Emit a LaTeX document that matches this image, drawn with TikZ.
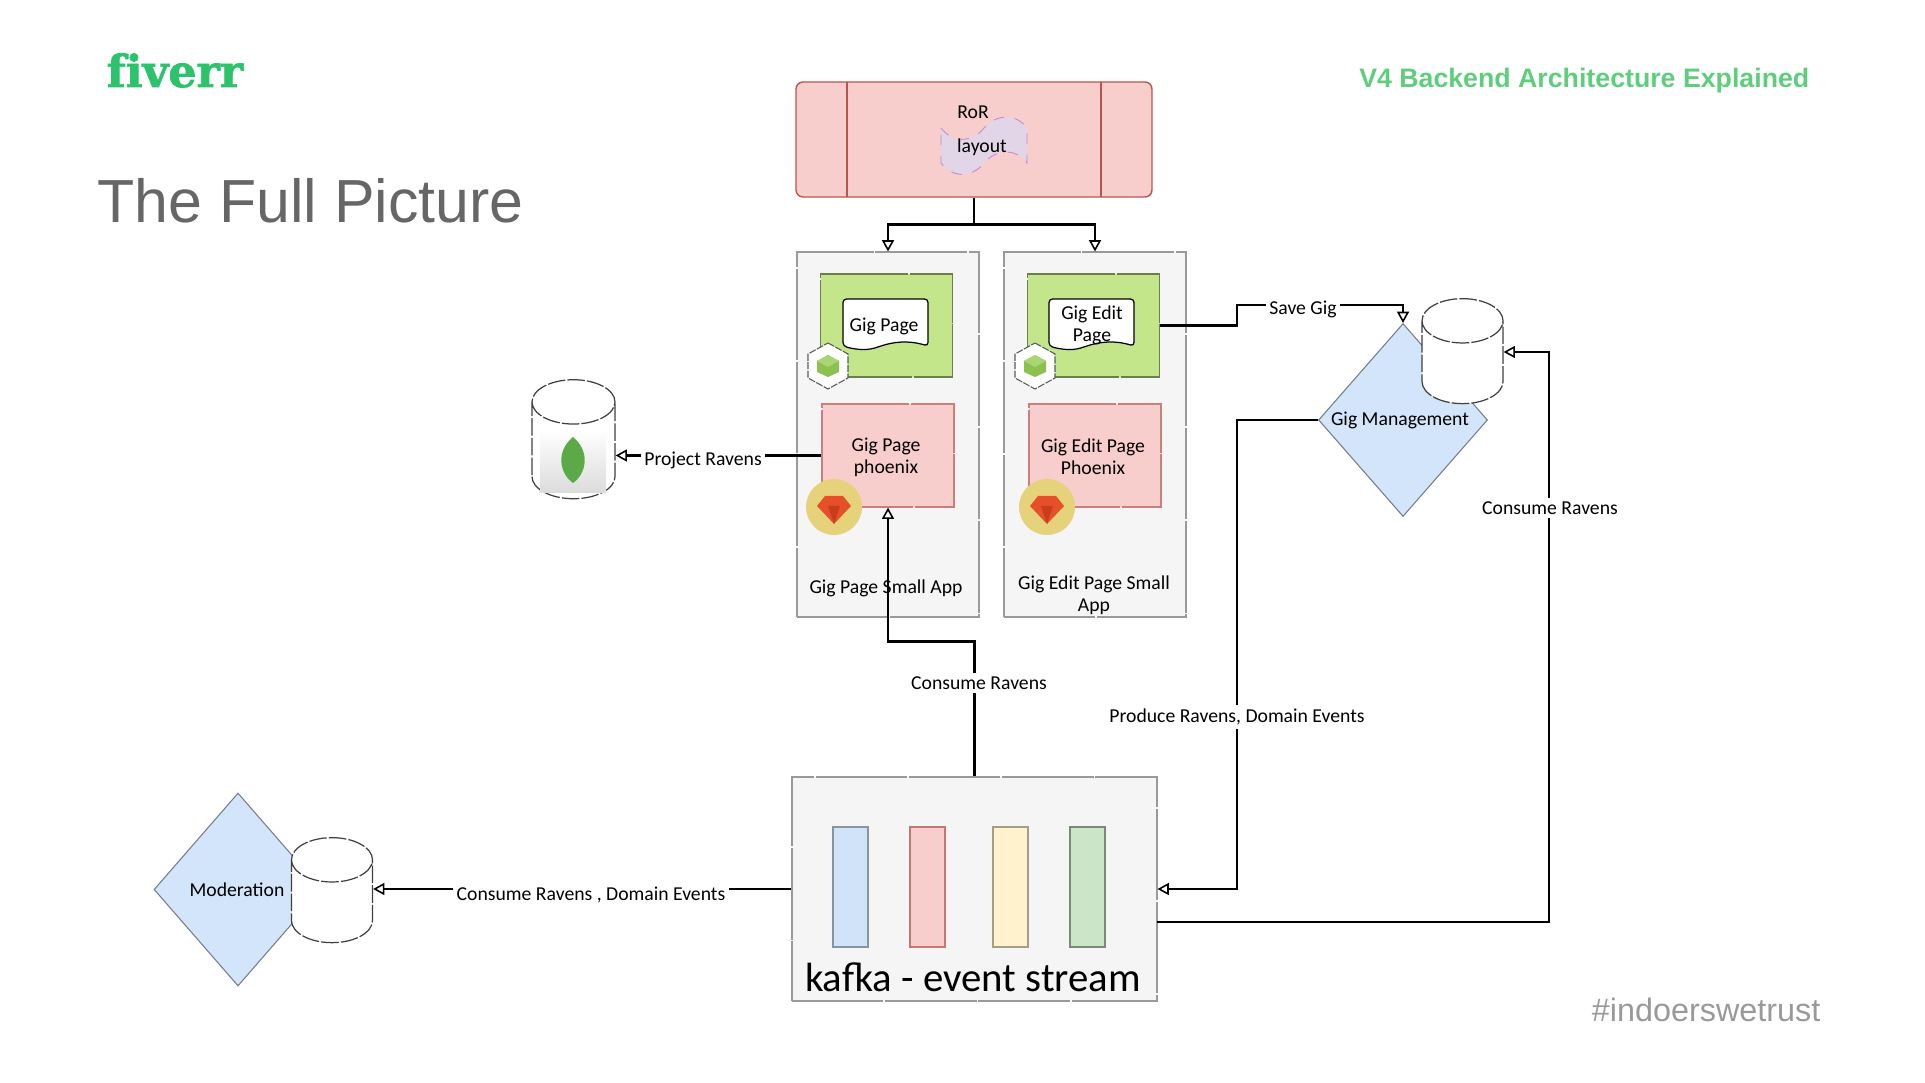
\documentclass[tikz,border=0pt]{standalone}
\usepackage{fontspec}
\setmainfont{Carlito}
\newfontfamily\headfont{Liberation Sans}
\newfontfamily\logofont[Ligatures=NoCommon, BoldFeatures={FakeBold=1.6}]{DejaVu Serif}
\usetikzlibrary{shapes.geometric, arrows.meta}
\definecolor{fiverrgreen}{HTML}{2DC36C}
\definecolor{headgreen}{HTML}{5FCE7C}
\definecolor{boxgrey}{HTML}{F5F5F5}
\definecolor{pinkfill}{HTML}{F8CECC}
\definecolor{pinkline}{HTML}{B85450}
\definecolor{greenfill}{HTML}{C3E68A}
\definecolor{bluefill}{HTML}{D3E5FA}
\definecolor{tapefill}{HTML}{E1D5E7}
\definecolor{cubegreen}{HTML}{8CC152}
\definecolor{cubetop}{HTML}{A9D673}
\definecolor{gemred}{HTML}{E5502B}
\definecolor{gemdark}{HTML}{C93C1C}
\definecolor{coingold}{HTML}{E6D27A}
\definecolor{leafgreen}{HTML}{5BAA47}
\definecolor{barblue}{HTML}{D0E3F8}
\definecolor{baryellow}{HTML}{FFF2CC}
\definecolor{bargreen}{HTML}{CBE5C8}
\tikzstyle{sketch} = [dash pattern=on 26pt off 0.5pt]
\tikzstyle{appbox} = [draw=black!40, fill=boxgrey, line width=0.3pt, sketch, minimum width=182*0.01cm, minimum height=365*0.01cm]
\tikzstyle{pagebox} = [draw=greenfill!55!black, fill=greenfill, line width=0.3pt, sketch, minimum width=132*0.01cm, minimum height=103*0.01cm]
\tikzstyle{phoenixbox} = [draw=pinkline!75, fill=pinkfill, line width=0.35pt, sketch, minimum width=132*0.01cm, minimum height=103*0.01cm]
\tikzstyle{decision} = [diamond, aspect=0.875, inner sep=0pt, draw=bluefill!55!black, fill=bluefill, line width=0.3pt, minimum width=169*0.01cm, minimum height=193*0.01cm]
\tikzstyle{dbstore} = [cylinder, shape border rotate=90, shape aspect=2.1, draw=black!75, fill=white, line width=0.35pt, dash pattern=on 5pt off 0.6pt, minimum width=81*0.01cm, minimum height=105*0.01cm, inner sep=3pt]
\tikzstyle{topicbar} = [line width=0.3pt, minimum width=35*0.01cm, minimum height=120*0.01cm]
\tikzstyle{txt} = [font=\fontsize{5.6}{6.2}\selectfont, align=center, text=black, inner sep=1pt]
\tikzstyle{edgetxt} = [txt, fill=white]
\tikzstyle{arrow} = [line width=0.6pt, -{Triangle[open, length=3.2pt, width=3.4pt, fill=white, line width=0.45pt]}]
\tikzset{
  cubeicon/.pic={
    \draw[fill=white, draw=black!65, line width=0.3pt, dash pattern=on 2pt off 0.4pt] (0,-23) -- (20,-12) -- (20,12) -- (0,23) -- (-20,12) -- (-20,-12) -- cycle;
    \fill[fill=cubegreen] (0,-11) -- (11,-5) -- (11,6) -- (0,11) -- (-11,6) -- (-11,-5) -- cycle;
    \fill[fill=cubetop] (0,-11) -- (11,-5) -- (0,1) -- (-11,-5) -- cycle;
  },
  gemicon/.pic={
    \fill[fill=coingold] (0,0) circle (28);
    \fill[fill=gemred] (-17,-1) -- (-9,-11) -- (9,-11) -- (17,-1) -- (0,17) -- cycle;
    \fill[fill=gemdark] (-6,-1) -- (6,-1) -- (0,17) -- cycle;
  },
  leaficon/.pic={
    \shade[top color=white, bottom color=black!14] (-33,-30) rectangle (33,33);
    \fill[fill=leafgreen] (0,-23) .. controls (18,-8) and (13,14) .. (0,23) .. controls (-13,14) and (-18,-8) .. (0,-23) -- cycle;
  }
}
\begin{document}
\begin{tikzpicture}[x=0.01cm, y=-0.01cm]
    \useasboundingbox (0,0) rectangle (1925,1083);

    % header texts
    \node (logo) [anchor=base west, inner sep=0pt, text=fiverrgreen, font=\logofont\bfseries\fontsize{12.6}{14}\selectfont] at (106,87) {fiverr};
    \node (title) [anchor=base west, inner sep=0pt, text=black!60, font=\headfont\fontsize{17.3}{18}\selectfont] at (97,223) {The Full Picture};
    \node (subtitle) [anchor=east, inner sep=0pt, text=headgreen, font=\headfont\bfseries\fontsize{7.6}{8}\selectfont] at (1810,81) {V4 Backend Architecture Explained};
    \node (hashtag) [anchor=east, inner sep=0pt, text=black!40, font=\headfont\fontsize{9.2}{10}\selectfont] at (1821,1010) {\#indoerswetrust};

    % ror layout
    \node (ror) [draw=pinkline, fill=pinkfill, line width=0.4pt, rounded corners=2pt, minimum width=356*0.01cm, minimum height=115*0.01cm] at (974,139.5) {};
    \draw[draw=pinkline, line width=0.4pt] (847,82) -- (847,197);
    \draw[draw=pinkline, line width=0.4pt] (1101,82) -- (1101,197);
    \draw[fill=tapefill, draw=violet!45, line width=0.25pt, dashed] (941,128) .. controls (955,146) and (975,140) .. (984,128) .. controls (995,115) and (1015,112) .. (1027,128) -- (1027,163) .. controls (1015,147) and (995,150) .. (984,163) .. controls (975,175) and (955,181) .. (941,163) -- cycle;
    \node (rorTxt) [txt] at (973,112) {RoR};
    \node (layoutTxt) [txt] at (982,147) {layout};

    % small apps
    \node (gigApp) [appbox] at (888,434.5) {};
    \node (editApp) [appbox] at (1095,434.5) {};
    \node (gigPage) [pagebox] at (886.5,325.5) {};
    \node (editPage) [pagebox] at (1093.5,325.5) {};
    \node (gigPhoenix) [phoenixbox] at (888,455.5) {};
    \node (editPhoenix) [phoenixbox] at (1095,455.5) {};
    \foreach \x in {843,1049}
        \draw[fill=white, draw=black, line width=0.35pt, rounded corners=1pt] (\x,299) -- (\x+85,299) -- (\x+85,346) .. controls (\x+65,340) and (\x+50,342) .. (\x+35,347) .. controls (\x+22,351) and (\x+10,349) .. (\x,346) -- cycle;
    \node (gigPageTxt) [txt] at (884,326) {Gig Page};
    \node (editPageTxt) [txt] at (1092,325) {Gig Edit\\Page};
    \pic at (828,366) {cubeicon};
    \pic at (1035,366) {cubeicon};
    \pic at (834,507) {gemicon};
    \pic at (1047,507) {gemicon};
    \node (gigPhoenixTxt) [txt] at (886,457) {Gig Page\\phoenix};
    \node (editPhoenixTxt) [txt] at (1093,457) {Gig Edit Page\\Phoenix};

    % stores
    \node (mongoDb) [dbstore, minimum height=119*0.01cm, minimum width=83*0.01cm] at (573.5,458) {};
    \pic at (573,460) {leaficon};
    \node (gigMgmt) [decision] at (1403,420) {};
    \node (gigDb) [dbstore] at (1462.5,370) {};
    \node (gigMgmtTxt) [txt] at (1400,420) {Gig Management};
    \node (moderation) [decision, minimum width=168*0.01cm] at (238,889.5) {};
    \node (modDb) [dbstore] at (332,909) {};
    \node (moderationTxt) [txt] at (237,890) {Moderation};

    % kafka
    \node (kafka) [appbox, minimum width=365*0.01cm, minimum height=224*0.01cm] at (974.5,889) {};
    \node (bar1) [topicbar, draw=barblue!65!black, fill=barblue] at (850.5,887) {};
    \node (bar2) [topicbar, draw=pinkline!80, fill=pinkfill] at (927.5,887) {};
    \node (bar3) [topicbar, draw=baryellow!65!black, fill=baryellow] at (1010.5,887) {};
    \node (bar4) [topicbar, draw=bargreen!60!black, fill=bargreen] at (1087.5,887) {};
    \node (kafkaTxt) [txt, font=\fontsize{11.6}{12}\selectfont] at (973,977) {kafka - event stream};

    % connectors
    \coordinate (saveBend) at (1237,305);
    \coordinate (produceBend) at (1237,889);
    \coordinate (consumeStart) at (1157,922);
    \coordinate (consumeBend) at (1549,352);
    \draw[arrow, line width=0.8pt] (ror.south) -- ++(0,27) -| (gigApp.north);
    \draw[arrow, line width=0.8pt] (ror.south) -- ++(0,27) -| (editApp.north);
    \draw[arrow] (kafka.north) -- ++(0,-135) -| (gigPhoenix.south);
    \draw[arrow] (gigPhoenix.west) -- (gigPhoenix.west -| mongoDb.east);
    \draw[arrow] (editPage.east) -| (saveBend) -| (gigMgmt.north);
    \draw[arrow] (gigMgmt.west) -| (produceBend) -- (kafka.east);
    \draw[arrow] (consumeStart) -| (consumeBend) -- (consumeBend -| gigDb.east);
    \draw[arrow] (kafka.west) -- (kafka.west -| modDb.east);

    % connector labels
    \node (saveTxt) [edgetxt] at (1303,309) {Save Gig};
    \node (projectTxt) [edgetxt] at (703,460) {Project Ravens};
    \node (consumeGigTxt) [edgetxt] at (979,683) {Consume Ravens};
    \node (produceTxt) [edgetxt] at (1237,717) {Produce Ravens, Domain Events};
    \node (consumeMgmtTxt) [edgetxt] at (1550,508) {Consume Ravens};
    \node (consumeModTxt) [edgetxt] at (591,895) {Consume Ravens , Domain Events};
    \node (gigAppTxt) [txt] at (886,588) {Gig Page Small App};
    \node (editAppTxt) [txt] at (1094,595) {Gig Edit Page Small\\App};

\end{tikzpicture}
\end{document}
